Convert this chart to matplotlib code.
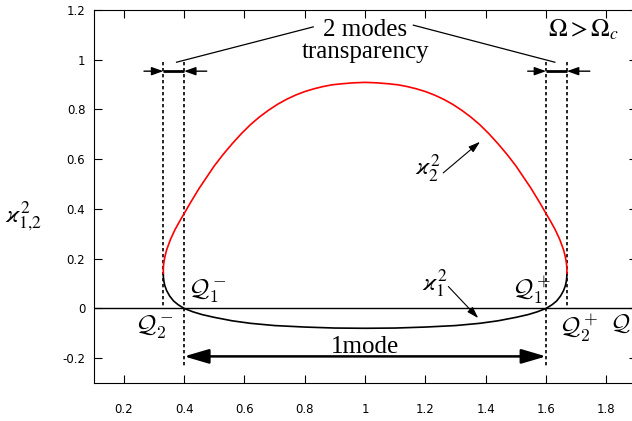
import matplotlib
matplotlib.use('Agg')
import matplotlib.pyplot as plt

# ---- data ----
Q_upper = [0.331, 0.33105, 0.3312, 0.3315, 0.333, 0.336, 0.342, 0.355, 0.37, 0.385,
           0.40, 0.42, 0.45, 0.50, 0.53, 0.56, 0.59, 0.62, 0.65, 0.68,
           0.71, 0.74, 0.77, 0.80, 0.83, 0.86, 0.89, 0.92, 0.96, 1.00,
           1.04, 1.08, 1.11, 1.14, 1.17, 1.20, 1.23, 1.26, 1.29, 1.32,
           1.35, 1.38, 1.41, 1.44, 1.47, 1.50, 1.55, 1.58, 1.60, 1.615,
           1.63, 1.645, 1.658, 1.664, 1.667, 1.6685, 1.6688, 1.66895, 1.669]
k2_upper = [0.141, 0.151, 0.161, 0.168, 0.185, 0.206, 0.235, 0.278, 0.317, 0.350,
            0.381, 0.423, 0.483, 0.573, 0.620, 0.663, 0.703, 0.739, 0.770, 0.797,
            0.821, 0.841, 0.858, 0.872, 0.883, 0.892, 0.899, 0.903, 0.907, 0.909,
            0.907, 0.903, 0.899, 0.892, 0.883, 0.872, 0.858, 0.841, 0.821, 0.797,
            0.770, 0.739, 0.703, 0.663, 0.620, 0.573, 0.483, 0.423, 0.381, 0.350,
            0.317, 0.278, 0.235, 0.206, 0.185, 0.168, 0.161, 0.151, 0.141]

Q_lower = [0.331, 0.3312, 0.3315, 0.333, 0.336, 0.342, 0.352, 0.365, 0.38, 0.40,
           0.43, 0.46, 0.50, 0.56, 0.62, 0.70, 0.80, 0.90, 1.00,
           1.10, 1.20, 1.30, 1.38, 1.44, 1.50, 1.54, 1.57, 1.60,
           1.62, 1.635, 1.648, 1.658, 1.664, 1.667, 1.6685, 1.6688, 1.669]
k1_lower = [0.141, 0.131, 0.125, 0.109, 0.092, 0.072, 0.050, 0.030, 0.015, 0.000,
            -0.014, -0.025, -0.036, -0.050, -0.060, -0.069, -0.075, -0.079, -0.080,
            -0.079, -0.075, -0.069, -0.060, -0.050, -0.036, -0.025, -0.014, 0.000,
            0.015, 0.030, 0.050, 0.072, 0.092, 0.109, 0.125, 0.131, 0.141]

Q1_points = [0.4, 1.6]      # Q1-, Q1+
Q2_points = [0.331, 1.669]  # Q2-, Q2+

xticks = [0.2, 0.4, 0.6, 0.8, 1.0, 1.2, 1.4, 1.6, 1.8]
xticklabels = ['0.2', '0.4', '0.6', '0.8', '1', '1.2', '1.4', '1.6', '1.8']
yticks = [-0.2, 0.0, 0.2, 0.4, 0.6, 0.8, 1.0, 1.2]
yticklabels = ['-0.2', '0', '0.2', '0.4', '0.6', '0.8', '1', '1.2']

# ---- figure ----
fig = plt.figure(figsize=(6.32, 4.21), dpi=100)
ax = fig.add_axes([93.6 / 632, 1 - 383 / 421, 543 / 632, 373 / 421])
ax.set_xlim(0.1, 1.9)
ax.set_ylim(-0.3, 1.2)

for s in ax.spines.values():
    s.set_linewidth(0.8)

ax.set_xticks(xticks)
ax.set_xticklabels(xticklabels)
ax.set_yticks(yticks)
ax.set_yticklabels(yticklabels)
ax.tick_params(direction='in', length=5.8, width=0.8, top=True, right=True,
               labelsize=8.5)
ax.tick_params(axis='x', pad=14.5)
ax.tick_params(axis='y', pad=6)
for lab in ax.get_xticklabels() + ax.get_yticklabels():
    lab.set_fontfamily('DejaVu Sans')

# zero line
ax.axhline(0, color='black', lw=1.0, zorder=2)

# curves
ax.plot(Q_lower, k1_lower, color='black', lw=1.2, zorder=3)
ax.plot(Q_upper, k2_upper, color='red', lw=1.2, zorder=4)

# dotted verticals
dot = dict(color='black', lw=1.2, linestyle=(0, (2, 1.6)), zorder=2)
for q in Q2_points:
    ax.plot([q, q], [0.99, 0.0], **dot)
for q in Q1_points:
    ax.plot([q, q], [0.99, -0.23], **dot)

# thick segments at top
for a, b in [(Q2_points[0], Q1_points[0]), (Q1_points[1], Q2_points[1])]:
    ax.plot([a, b], [0.954, 0.954], color='black', lw=2.0, solid_capstyle='butt')

small = dict(arrowstyle='-|>,head_length=0.7,head_width=0.25', color='black',
             lw=1.0, shrinkA=0, shrinkB=0, mutation_scale=10)
for tail, tip in [(0.267, Q2_points[0]), (0.475, Q1_points[0]),
                  (1.539, Q1_points[1]), (1.745, Q2_points[1])]:
    ax.annotate('', xy=(tip, 0.954), xytext=(tail, 0.954), arrowprops=small)

# bottom double arrow "1 mode"
ax.annotate('', xy=(Q1_points[1], -0.193), xytext=(Q1_points[0], -0.193),
            arrowprops=dict(arrowstyle='<|-|>,head_length=0.75,head_width=0.22',
                            color='black', lw=1.8, shrinkA=0, shrinkB=0,
                            mutation_scale=20))

serif = 'Liberation Serif'
ax.text(1.0, -0.179, '1mode', ha='center', va='baseline', fontsize=18,
        family=serif)

# "2 modes transparency"
ax.text(1.0, 1.094, '2 modes', ha='center', va='baseline', fontsize=18,
        family=serif)
ax.text(1.0, 1.005, 'transparency', ha='center', va='baseline', fontsize=18,
        family=serif)
l1, = ax.plot([0.375, 0.828], [0.99, 1.132], color='black', lw=0.9)
l2, = ax.plot([1.160, 1.629], [1.139, 0.99], color='black', lw=0.9)
l1.set_clip_on(False)
l2.set_clip_on(False)

ax.text(1.724, 1.092, r'$\Omega > \Omega_c$', ha='center', va='baseline',
        fontsize=18, math_fontfamily='stix')

# Q labels
qkw = dict(va='baseline', fontsize=18, math_fontfamily='cm')
ax.text(0.414, 0.047, r'$\mathcal{Q}_1^-$', ha='left', **qkw)
ax.text(0.238, -0.098, r'$\mathcal{Q}_2^-$', ha='left', **qkw)
ax.text(1.486, 0.045, r'$\mathcal{Q}_1^+$', ha='left', **qkw)
ax.text(1.644, -0.11, r'$\mathcal{Q}_2^+$', ha='left', **qkw)
ax.text(1.812, -0.086, r'$\mathcal{Q}$', ha='left', va='baseline', fontsize=17,
        math_fontfamily='cm')

# kappa labels
kkw = dict(va='baseline', fontsize=18, math_fontfamily='stix')
ax.text(1.165, 0.536, r'$\varkappa_2^2$', ha='left', **kkw)
ax.text(1.188, 0.074, r'$\varkappa_1^2$', ha='left', **kkw)
thin = dict(arrowstyle='-|>,head_length=0.7,head_width=0.22', color='black',
            lw=0.8, shrinkA=0, shrinkB=0, mutation_scale=10)
ax.annotate('', xy=(1.381, 0.670), xytext=(1.259, 0.545), arrowprops=thin)
ax.annotate('', xy=(1.375, -0.039), xytext=(1.276, 0.088), arrowprops=thin)

fig.text(5 / 632, 1 - 221.7 / 421, r'$\varkappa_{1{,}2}^2$', ha='left',
         va='baseline', fontsize=18, math_fontfamily='stix')

fig.savefig('out.png', dpi=100)
